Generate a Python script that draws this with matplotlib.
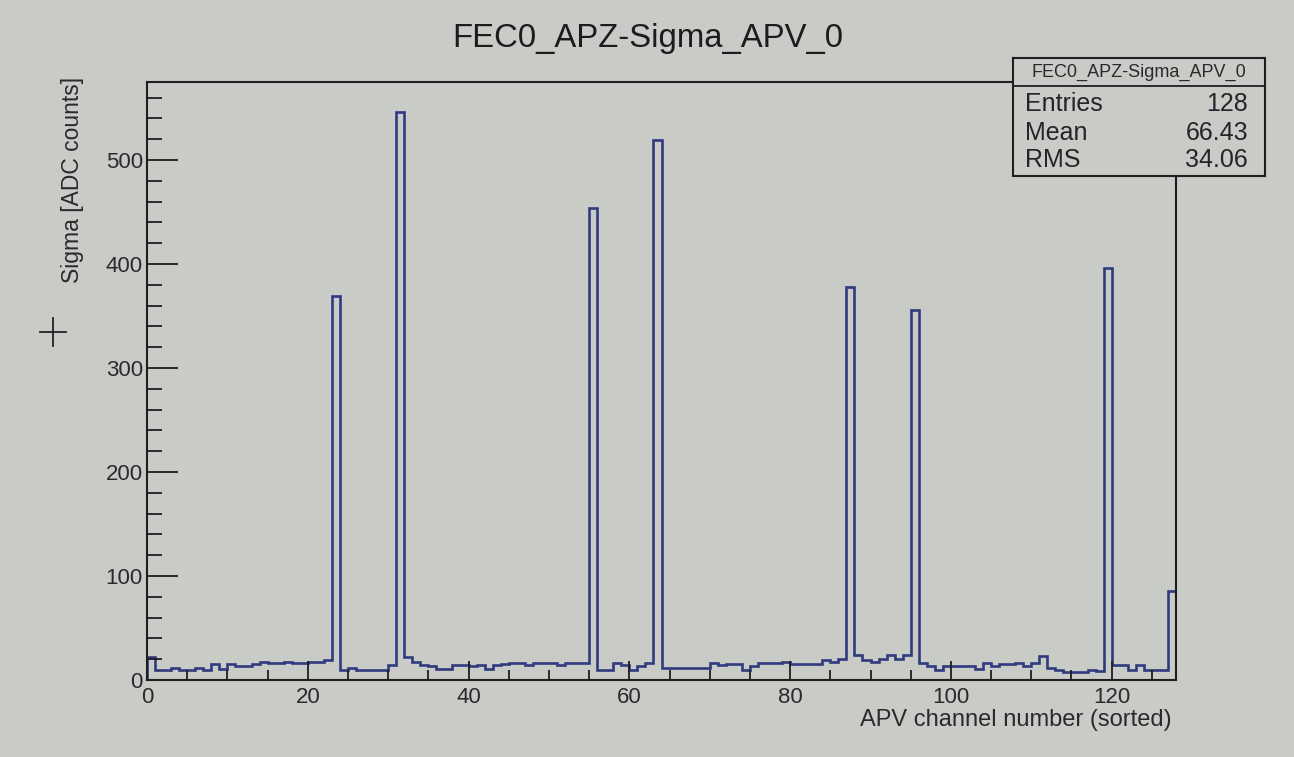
import matplotlib
matplotlib.use("Agg")
import matplotlib.pyplot as plt
from matplotlib.lines import Line2D
import numpy as np

# channel sigma values (128 channels)
channels = np.arange(0, 129)
sigma = [22, 10, 10, 12, 10, 10, 12, 10, 15, 11, 15, 13, 13, 15, 17, 16,
         16, 17, 16, 16, 17, 17, 19, 369, 10, 12, 10, 10, 10, 10, 14, 546,
         22, 17, 14, 13, 11, 11, 14, 14, 13, 14, 11, 14, 15, 16, 16, 14,
         16, 16, 16, 14, 16, 16, 16, 454, 10, 10, 16, 14, 10, 13, 16, 519,
         12, 12, 12, 12, 12, 12, 16, 14, 15, 15, 10, 13, 16, 16, 16, 17,
         15, 15, 15, 15, 19, 17, 20, 378, 24, 19, 17, 20, 24, 20, 24, 356,
         16, 13, 10, 13, 13, 13, 13, 11, 16, 13, 15, 15, 16, 13, 16, 23,
         12, 10, 8, 8, 8, 10, 9, 396, 14, 14, 10, 14, 10, 10, 10, 86]

x_major = [0, 20, 40, 60, 80, 100, 120]
y_major = [0, 100, 200, 300, 400, 500]

hist_name = "FEC0_APZ-Sigma_APV_0"
stat_labels = ["Entries", "Mean", "RMS"]
stat_values = ["128", "66.43", "34.06"]

bg = "#c9cbc7"
line_col = "#2f3b7e"
ink = "#1e1e22"

plt.rcParams['font.family'] = ['Liberation Sans', 'DejaVu Sans']

fig = plt.figure(figsize=(12.94, 7.57), dpi=100)
fig.patch.set_facecolor(bg)
ax = fig.add_axes([147/1294, 1 - 680/757, (1176 - 147)/1294, (680 - 82)/757])
ax.set_facecolor(bg)

ax.stairs(sigma, channels, color=line_col, linewidth=1.9, baseline=0)

ax.set_xlim(0, 128)
ax.set_ylim(0, 575)
ax.set_xticks(x_major)
ax.set_xticks(np.arange(0, 129, 5), minor=True)
ax.set_yticks(y_major)
ax.set_yticks(np.arange(0, 575, 20), minor=True)

ax.tick_params(axis='x', which='major', direction='in', length=14, width=1.3,
               colors=ink, labelsize=16, pad=5, top=False)
ax.tick_params(axis='x', which='minor', direction='in', length=7, width=1.3,
               colors=ink, top=False)
ax.tick_params(axis='y', which='major', direction='in', length=22, width=1.3,
               colors=ink, labelsize=16, pad=3, right=False)
ax.tick_params(axis='y', which='minor', direction='in', length=11, width=1.3,
               colors=ink, right=False)
for lab in ax.get_xticklabels() + ax.get_yticklabels():
    lab.set_color("#2a2a2e")
for s in ax.spines.values():
    s.set_color(ink)
    s.set_linewidth(1.5)

# title and axis titles (ROOT style placement)
fig.text(648/1294, 1 - 38/757, hist_name, ha='center', va='center',
         fontsize=23.7, color="#1c1c20")
fig.text(1172/1294, 1 - 720/757, "APV channel number (sorted)", ha='right',
         va='center', fontsize=17, color="#2a2a2e")
fig.text(73/1294, 1 - 77/757, "Sigma [ADC counts]", ha='center', va='top',
         rotation=90, fontsize=16.5, color="#2a2a2e")

# stray mouse cursor in the photo (thin cross)
fig.add_artist(Line2D([40/1294, 66/1294], [1 - 332/757, 1 - 332/757],
                      color="#222226", linewidth=1.3))
fig.add_artist(Line2D([53/1294, 53/1294], [1 - 318/757, 1 - 346/757],
                      color="#222226", linewidth=1.3))

# stats box
sb = fig.add_axes([1013/1294, 1 - 176/757, (1265 - 1013)/1294, (176 - 58)/757])
sb.set_facecolor(bg)
sb.set_xlim(0, 1)
sb.set_ylim(0, 1)
sb.set_xticks([])
sb.set_yticks([])
for s in sb.spines.values():
    s.set_color(ink)
    s.set_linewidth(1.5)
sep = 1 - (86 - 58) / (176 - 58)
sb.axhline(sep, color=ink, linewidth=1.3)
sb.text(0.5, (1 + sep) / 2, hist_name, ha='center', va='center', fontsize=13,
        color="#2a2a2e")
rows_y = [1 - (104 - 58) / 118, 1 - (133 - 58) / 118, 1 - (160 - 58) / 118]
for lbl, val, yy in zip(stat_labels, stat_values, rows_y):
    sb.text(12/252, yy, lbl, ha='left', va='center', fontsize=18, color="#24242a")
    sb.text(1 - 17/252, yy, val, ha='right', va='center', fontsize=18, color="#24242a")

fig.savefig("out.png", dpi=100, facecolor=bg)
